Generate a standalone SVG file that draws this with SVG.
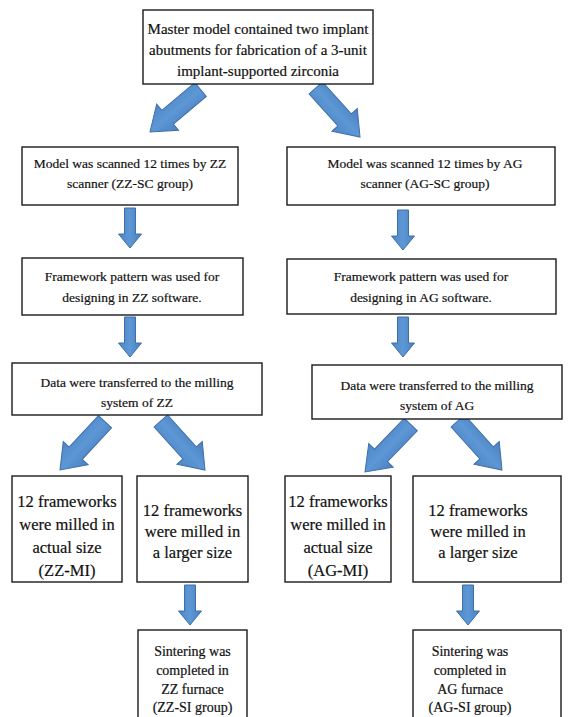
<svg xmlns="http://www.w3.org/2000/svg" xmlns:xlink="http://www.w3.org/1999/xlink" width="568" height="717" viewBox="0 0 568 717">
<style>
  .box { fill: #ffffff; stroke: #1a1a1a; stroke-width: 1.4; }
  text { font-family: 'Liberation Serif', 'Times New Roman', serif; fill: #111111; stroke: #111111; stroke-width: 0.2; text-anchor: middle; }
  .t1 { font-size: 15px; }
  .t2 { font-size: 13.5px; }
  .t3 { font-size: 16.5px; }
  .t4 { font-size: 14px; }
  .arr { fill: url(#blue); stroke: #3f6fa6; stroke-width: 1; stroke-linejoin: miter; }
</style>
<defs>
  <linearGradient id="blue" x1="0" y1="0" x2="1" y2="0">
    <stop offset="0" stop-color="#4f86c6"/>
    <stop offset="0.5" stop-color="#5d97d6"/>
    <stop offset="1" stop-color="#4a80c0"/>
  </linearGradient>
  <path id="dn" d="M-5.5,-40 H5.5 V-14 H11.5 L0,0 L-11.5,-14 H-5.5 Z"/>
  <path id="big" d="M-9,-66 H9 V-23 H17 L0,0 L-17,-23 H-9 Z"/>
</defs>
<rect width="568" height="717" fill="#ffffff"/>

<g id="connectors">
  <use xlink:href="#big" class="arr" transform="translate(150,132) rotate(50)"/>
  <use xlink:href="#big" class="arr" transform="translate(360,137) rotate(-42)"/>
  <use xlink:href="#dn" class="arr" transform="translate(130,248)"/>
  <use xlink:href="#dn" class="arr" transform="translate(403,250)"/>
  <use xlink:href="#dn" class="arr" transform="translate(130,357)"/>
  <use xlink:href="#dn" class="arr" transform="translate(403,357)"/>
  <use xlink:href="#big" class="arr" transform="translate(60,470) rotate(43)"/>
  <use xlink:href="#big" class="arr" transform="translate(205,470) rotate(-42)"/>
  <use xlink:href="#big" class="arr" transform="translate(365,472) rotate(44)"/>
  <use xlink:href="#big" class="arr" transform="translate(502,470) rotate(-42)"/>
  <use xlink:href="#dn" class="arr" transform="translate(190,625)"/>
  <use xlink:href="#dn" class="arr" transform="translate(468,625)"/>
</g>

<g id="master">
  <rect class="box" x="143" y="10" width="230" height="74"/>
  <text class="t1" x="258" y="34">Master model contained two implant</text>
  <text class="t1" x="258" y="55">abutments for fabrication of a 3-unit</text>
  <text class="t1" x="258" y="76">implant-supported zirconia</text>
</g>

<g id="zz-scan">
  <rect class="box" x="22" y="147" width="216" height="58"/>
  <text class="t2" x="130" y="168">Model was scanned 12 times by ZZ</text>
  <text class="t2" x="130" y="188">scanner (ZZ-SC group)</text>
</g>
<g id="ag-scan">
  <rect class="box" x="287" y="147" width="268" height="58"/>
  <text class="t2" x="425" y="168">Model was scanned 12 times by AG</text>
  <text class="t2" x="425" y="188">scanner (AG-SC group)</text>
</g>

<g id="zz-design">
  <rect class="box" x="22" y="258" width="221" height="57"/>
  <text class="t2" x="132" y="281">Framework pattern was used for</text>
  <text class="t2" x="132" y="302">designing in ZZ software.</text>
</g>
<g id="ag-design">
  <rect class="box" x="287" y="259" width="269" height="55"/>
  <text class="t2" x="421" y="281">Framework pattern was used for</text>
  <text class="t2" x="421" y="302">designing in AG software.</text>
</g>

<g id="zz-mill">
  <rect class="box" x="12" y="363" width="250" height="52"/>
  <text class="t2" x="137" y="387">Data were transferred to the milling</text>
  <text class="t2" x="137" y="407">system of ZZ</text>
</g>
<g id="ag-mill">
  <rect class="box" x="312" y="365" width="250" height="54"/>
  <text class="t2" x="437" y="390">Data were transferred to the milling</text>
  <text class="t2" x="437" y="410">system of AG</text>
</g>

<g id="zz-mi">
  <rect class="box" x="12" y="476" width="110" height="106"/>
  <text class="t3" x="67" y="507">12 frameworks</text>
  <text class="t3" x="67" y="530">were milled in</text>
  <text class="t3" x="67" y="553">actual size</text>
  <text class="t3" x="67" y="576">(ZZ-MI)</text>
</g>
<g id="zz-large">
  <rect class="box" x="137" y="476" width="111" height="106"/>
  <text class="t3" x="192.5" y="516">12 frameworks</text>
  <text class="t3" x="192.5" y="537">were milled in</text>
  <text class="t3" x="192.5" y="558">a larger size</text>
</g>
<g id="ag-mi">
  <rect class="box" x="285" y="476" width="106" height="106"/>
  <text class="t3" x="338" y="507">12 frameworks</text>
  <text class="t3" x="338" y="530">were milled in</text>
  <text class="t3" x="338" y="553">actual size</text>
  <text class="t3" x="338" y="576">(AG-MI)</text>
</g>
<g id="ag-large">
  <rect class="box" x="413" y="476" width="148" height="106"/>
  <text class="t3" x="478" y="516">12 frameworks</text>
  <text class="t3" x="478" y="537">were milled in</text>
  <text class="t3" x="478" y="558">a larger size</text>
</g>

<g id="zz-sinter">
  <rect class="box" x="138" y="630" width="109" height="95"/>
  <text class="t4" x="192.5" y="656">Sintering was</text>
  <text class="t4" x="192.5" y="675">completed in</text>
  <text class="t4" x="192.5" y="694">ZZ furnace</text>
  <text class="t4" x="192.5" y="712">(ZZ-SI group)</text>
</g>
<g id="ag-sinter">
  <rect class="box" x="413" y="630" width="148" height="95"/>
  <text class="t4" x="470" y="656">Sintering was</text>
  <text class="t4" x="470" y="675">completed in</text>
  <text class="t4" x="470" y="694">AG furnace</text>
  <text class="t4" x="470" y="712">(AG-SI group)</text>
</g>
</svg>
